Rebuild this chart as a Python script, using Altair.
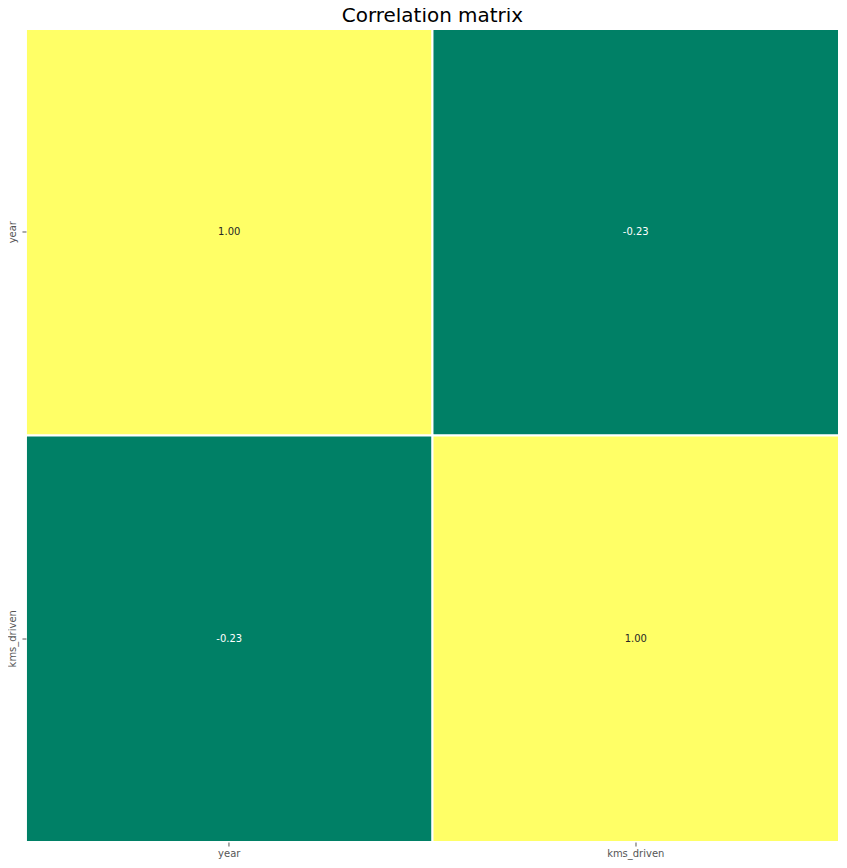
import altair as alt
import pandas as pd

variables = ["year", "kms_driven"]
row_year = [1.00, -0.23]
row_kms = [-0.23, 1.00]

rows = []
for yv, vals in zip(variables, [row_year, row_kms]):
    for xv, v in zip(variables, vals):
        rows.append({"x": xv, "y": yv, "value": v})
df = pd.DataFrame(rows)
df["label"] = df["value"].map(lambda v: f"{v:.2f}")
df["txtcolor"] = df["value"].map(lambda v: "dark" if v > 0.5 else "light")

base = alt.Chart(df).encode(
    x=alt.X("x:N", sort=variables, title=None,
            scale=alt.Scale(paddingInner=0, paddingOuter=0),
            axis=alt.Axis(labelAngle=0, labelFont="DejaVu Sans", labelFontSize=10,
                          labelColor="#555555", tickColor="#555555", tickSize=4,
                          labelPadding=3, domain=False, grid=False)),
    y=alt.Y("y:N", sort=variables, title=None,
            scale=alt.Scale(paddingInner=0, paddingOuter=0),
            axis=alt.Axis(labelAngle=270, labelFont="DejaVu Sans", labelFontSize=10,
                          labelColor="#555555", tickColor="#555555", tickSize=4,
                          labelPadding=4, domain=False, grid=False,
                          labelAlign="center", labelBaseline="bottom")),
)

rect = base.mark_rect(stroke="white", strokeWidth=2).encode(
    color=alt.Color("value:Q",
                    scale=alt.Scale(domain=[-0.23, 1.0], range=["#008066", "#ffff66"],
                                    interpolate="rgb"),
                    legend=None)
)

text = base.mark_text(font="DejaVu Sans", fontSize=10).encode(
    text="label:N",
    color=alt.Color("txtcolor:N",
                    scale=alt.Scale(domain=["dark", "light"], range=["#262626", "#ffffff"]),
                    legend=None),
)

chart = (rect + text).properties(
    width=815, height=815,
    title=alt.TitleParams("Correlation matrix", font="DejaVu Sans", fontSize=20,
                          fontWeight="normal", color="black", anchor="middle", offset=2),
    autosize=alt.AutoSizeParams(type="none"),
    padding={"left": 18, "top": 20, "right": 0, "bottom": 25},
).configure_view(stroke=None)

chart.save("out.html", embed_options={"renderer": "svg", "actions": False})
